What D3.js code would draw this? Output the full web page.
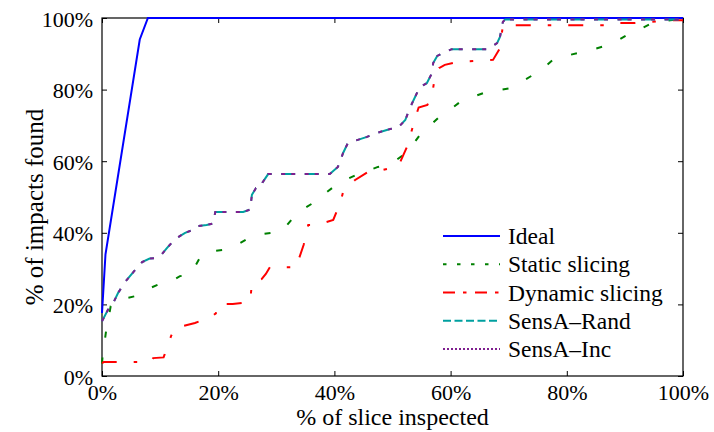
<!DOCTYPE html>
<html>
<head>
<meta charset="utf-8">
<script src="https://cdn.jsdelivr.net/npm/d3@7/dist/d3.min.js"></script>
<style>
  html, body { margin: 0; padding: 0; background: #fff; }
  svg { display: block; }
  text { font-family: "Liberation Serif", "Times New Roman", "DejaVu Serif", serif; fill: #000; }
</style>
</head>
<body>
<svg id="chart" width="714" height="432"></svg>
<script>
// Axis ticks (percent)
const xTicks = [0, 20, 40, 60, 80, 100];
const yTicks = [0, 20, 40, 60, 80, 100];

// Series: [% of slice inspected, % of impacts found]
const ideal = [[0, 17.6], [0.6, 34], [6.5, 94], [7.9, 100], [100, 100]];

const staticSlicing = [
  [0, 3.5], [0.1, 5.5], [0.7, 12.5], [1.5, 19.5], [3, 21.3], [5.7, 22.3], [7.5, 24],
  [9.6, 25.5], [12, 26.5], [13.4, 27.9], [14.6, 28], [15.8, 30], [16.9, 33.2],
  [18.5, 34.8], [20.7, 35.2], [22, 35.5], [25, 38.3], [27, 39.5], [29.4, 40],
  [31, 40.5], [32.7, 43.8], [34.5, 46.5], [36.3, 48.3], [38, 50.5], [39.6, 52.5],
  [41.5, 54.5], [43.5, 56], [45.5, 57.2], [47.5, 58.4], [50, 59.5], [51.8, 61.7],
  [53, 63.5], [54.7, 67.3], [56.5, 70], [58, 72.3], [60, 74.5], [61.6, 76.5],
  [63.5, 77.8], [65.6, 79], [68, 79.8], [70.2, 80.4], [72, 82], [74.2, 84.1],
  [76, 86], [77.6, 88.3], [80, 89.5], [81.9, 90.2], [84, 91], [86.6, 92.2],
  [88.5, 93.5], [90.4, 95.3], [92.5, 96.8], [94.3, 98.3], [96, 98.8], [97.8, 99.4],
  [100, 99.8]
];

const dynamicSlicing = [
  [0, 3.6], [0.3, 3.9], [8.3, 3.9], [8.8, 5], [10.6, 5.2], [10.8, 6.1], [11.9, 11.2],
  [12.6, 13.5], [14, 14], [16, 14.8], [18.8, 16.5], [19.6, 17.5], [20, 20.1],
  [22.5, 20.1], [25.5, 20.7], [25.8, 26], [27.5, 27.1], [28.2, 28.5], [28.9, 30.4],
  [33.6, 30.4], [33.7, 31.8], [34.7, 36.6], [35.5, 42.2], [37, 42.2], [39.8, 43.6],
  [41, 48.3], [41.5, 51.4], [43.5, 54.7], [45.8, 57], [48.2, 57.5], [51, 58.6],
  [52.5, 64], [53, 66.8], [53.9, 72], [54.5, 75], [56, 75.7], [56.8, 78.5],
  [57.3, 83.5], [58, 86], [59, 86.9], [61, 87.7], [64.2, 88], [67.3, 88.3],
  [68.5, 91.6], [69, 98], [88, 98], [89, 98.6], [91.7, 98.6], [98.3, 99.4], [100, 99.4]
];

const sensARand = [
  [0, 15.3], [1, 18.4], [2, 20.6], [2.8, 23.3], [4.1, 26.5], [5.7, 29.6], [6.9, 31.8],
  [8.2, 32.8], [9.5, 33], [10.3, 34], [11.2, 35.8], [12.6, 38.3], [14.3, 40],
  [16, 41], [16.5, 41.9], [18, 42.2], [19.1, 42.6], [19.5, 45.8], [24.3, 45.8],
  [25.5, 46.5], [25.8, 50.6], [26.5, 52.5], [27.3, 52.7], [27.6, 54], [28.6, 56.4],
  [39.2, 56.4], [40.6, 58.4], [41.5, 62.3], [42.3, 65], [43.9, 65.9], [45.6, 66.8],
  [47.3, 67.9], [49.6, 69], [50.9, 69.3], [52.2, 71.5], [53, 74.9], [54.2, 79],
  [54.7, 80.7], [55.9, 81.8], [56.8, 84.6], [57, 87.4], [57.7, 89.4], [58.7, 90.2],
  [60.2, 91.3], [66.4, 91.3], [68, 93], [68.5, 94.7], [69, 98.9], [69.4, 99.6],
  [100, 99.6]
];

const sensAInc = [
  [0, 15.3], [1, 18.4], [2, 20.6], [2.8, 23.3], [4.1, 26.5], [5.7, 29.6], [6.9, 31.8],
  [8.2, 32.8], [9.5, 33], [10.3, 34], [11.2, 35.8], [12.6, 38.3], [14.3, 40],
  [16, 41], [16.5, 41.9], [18, 42.2], [19.1, 42.6], [19.5, 45.8], [24.3, 45.8],
  [25.5, 46.5], [25.8, 50.6], [26.5, 52.5], [27.3, 52.7], [27.6, 54], [28.6, 56.4],
  [39.2, 56.4], [40.6, 58.4], [41.5, 62.3], [42.3, 65], [43.9, 65.9], [45.6, 66.8],
  [47.3, 67.9], [49.6, 69], [50.9, 69.3], [52.2, 71.5], [53, 74.9], [54.2, 79],
  [54.7, 80.7], [55.9, 81.8], [56.8, 84.6], [57, 87.4], [57.7, 89.4], [58.7, 90.2],
  [60.2, 91.3], [66.4, 91.3], [68, 93], [68.5, 94.7], [69, 98.9], [69.4, 99.6],
  [100, 99.6]
];

const seriesNames = ["Ideal", "Static slicing", "Dynamic slicing", "SensA\u2013Rand", "SensA\u2013Inc"];

const series = [
  { name: seriesNames[0], data: ideal,          color: "#0000ff", dash: null,           legendDash: null },
  { name: seriesNames[1], data: staticSlicing,  color: "#008000", dash: "6,20",         legendDash: "3.5,10.5" },
  { name: seriesNames[2], data: dynamicSlicing, color: "#ff0000", dash: "15,17,3.5,17", legendDash: "12,8,3.5,8.5" },
  { name: seriesNames[3], data: sensARand,      color: "#00a0a0", dash: "14,9.5",       legendDash: "8,3.5" },
  { name: seriesNames[4], data: sensAInc,       color: "#7f1f8f", dash: "4,6,4,9.5",    legendDash: "2,2" }
];

const FONT = '"Liberation Serif", "Times New Roman", "DejaVu Serif", serif';
const margin = { left: 102, right: 683, top: 18, bottom: 376 };
const svg = d3.select("#chart");

const x = d3.scaleLinear().domain([0, 100]).range([margin.left, margin.right]);
const y = d3.scaleLinear().domain([0, 100]).range([margin.bottom, margin.top]);

const pct = d => d + "%";

// Axes with inward ticks on all four sides
const gx = svg.append("g").attr("transform", `translate(0,${margin.bottom})`)
  .call(d3.axisBottom(x).tickValues(xTicks).tickFormat(pct).tickSize(-5).tickPadding(0));
const gy = svg.append("g").attr("transform", `translate(${margin.left},0)`)
  .call(d3.axisLeft(y).tickValues(yTicks).tickFormat(pct).tickSize(-5).tickPadding(0));
const gxt = svg.append("g").attr("transform", `translate(0,${margin.top})`)
  .call(d3.axisTop(x).tickValues(xTicks).tickFormat("").tickSize(-5));
const gyr = svg.append("g").attr("transform", `translate(${margin.right},0)`)
  .call(d3.axisRight(y).tickValues(yTicks).tickFormat("").tickSize(-5));

[gx, gy, gxt, gyr].forEach(g => {
  g.attr("font-family", FONT);
  g.select(".domain").remove();
  g.selectAll(".tick line").attr("stroke", "#000").attr("stroke-width", 1);
});

gx.selectAll(".tick text")
  .attr("y", 24).attr("dy", null)
  .style("font-family", FONT).style("font-size", "22px").attr("fill", "#000");
gy.selectAll(".tick text")
  .attr("x", -9).attr("dy", "8")
  .style("font-family", FONT).style("font-size", "22px").attr("fill", "#000");

// Plot frame
svg.append("rect")
  .attr("x", margin.left).attr("y", margin.top)
  .attr("width", margin.right - margin.left)
  .attr("height", margin.bottom - margin.top)
  .attr("fill", "none").attr("stroke", "#000").attr("stroke-width", 1.2);

// Series lines
const line = d3.line().x(d => x(d[0])).y(d => y(d[1]));
svg.append("g").selectAll("path")
  .data(series)
  .join("path")
  .attr("d", d => line(d.data))
  .attr("fill", "none")
  .attr("stroke", d => d.color)
  .attr("stroke-width", 2)
  .attr("stroke-dasharray", d => d.dash);

// Legend
const legend = svg.append("g");
const legendRowY = d3.scalePoint().domain(seriesNames).range([236, 349]);
const rows = legend.selectAll("g").data(series).join("g")
  .attr("transform", d => `translate(0,${legendRowY(d.name)})`);
rows.append("line")
  .attr("x1", 443).attr("x2", 500).attr("y1", 0).attr("y2", 0)
  .attr("stroke", d => d.color).attr("stroke-width", 2)
  .attr("stroke-dasharray", d => d.legendDash);
rows.append("text")
  .attr("x", 508).attr("y", 8)
  .style("font-family", FONT)
  .style("font-size", "23.5px")
  .text(d => d.name);

// Axis titles
svg.append("text")
  .attr("x", (margin.left + margin.right) / 2).attr("y", 425)
  .attr("text-anchor", "middle")
  .style("font-family", FONT)
  .style("font-size", "24px")
  .text("% of slice inspected");
svg.append("text")
  .attr("transform", `translate(43,${(margin.top + margin.bottom) / 2 + 10}) rotate(-90)`)
  .attr("text-anchor", "middle")
  .style("font-family", FONT)
  .style("font-size", "25px")
  .text("% of impacts found");
</script>
</body>
</html>
